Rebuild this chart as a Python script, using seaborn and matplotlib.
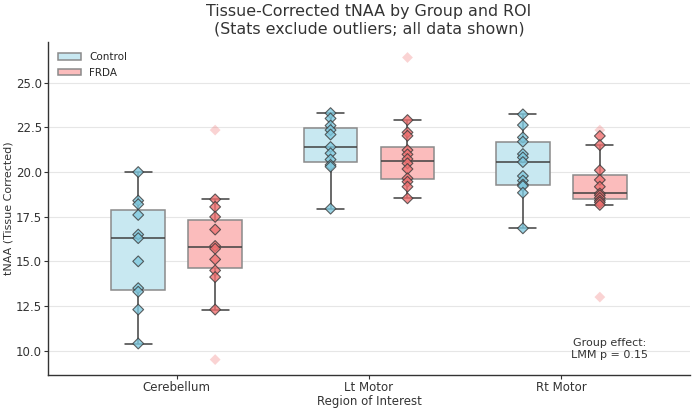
import pandas as pd
import matplotlib
matplotlib.use("Agg")
import matplotlib.pyplot as plt
import seaborn as sns

# Values
rois = ["Cerebellum", "Lt Motor", "Rt Motor"]
groups = ["Control", "FRDA"]

# inliers (used for the box statistics)
cer_control = [20.0, 18.4, 18.2, 17.6, 16.5, 16.3, 15.0, 13.5, 13.3, 12.3, 10.4]
cer_frda = [18.47, 18.05, 17.49, 16.78, 15.86, 15.71, 15.11, 14.49, 14.12, 12.30]
ltm_control = [23.3, 23.0, 22.6, 22.35, 22.1, 21.4, 21.05, 20.7, 20.4, 20.3, 17.95]
ltm_frda = [22.91, 22.22, 22.03, 21.23, 20.99, 20.73, 20.49, 20.17, 19.65, 19.46, 19.18, 18.53]
rtm_control = [23.23, 22.63, 21.94, 21.70, 21.01, 20.82, 20.56, 19.78, 19.52, 19.3, 19.22, 18.84, 16.85]
rtm_frda = [22.02, 21.51, 20.1, 19.56, 19.18, 18.8, 18.7, 18.55, 18.4, 18.3, 18.16]

# outliers (shown faded, excluded from stats)
cer_frda_out = [22.35, 9.5]
ltm_frda_out = [26.45]
rtm_frda_out = [22.35, 13.0]

palette_box = {"Control": "#c8e8f1", "FRDA": "#fbbcbc"}
palette_pts = {"Control": "#80c9df", "FRDA": "#f07070"}


def long_table(pairs):
    rows = []
    for roi, grp, vals in pairs:
        for v in vals:
            rows.append({"ROI": roi, "Group": grp, "tNAA": v})
    return pd.DataFrame(rows)


inliers = long_table([
    ("Cerebellum", "Control", cer_control),
    ("Cerebellum", "FRDA", cer_frda),
    ("Lt Motor", "Control", ltm_control),
    ("Lt Motor", "FRDA", ltm_frda),
    ("Rt Motor", "Control", rtm_control),
    ("Rt Motor", "FRDA", rtm_frda),
])
outliers = long_table([
    ("Cerebellum", "FRDA", cer_frda_out),
    ("Lt Motor", "FRDA", ltm_frda_out),
    ("Rt Motor", "FRDA", rtm_frda_out),
])

sns.set_style("ticks")
plt.rcParams["font.family"] = ["DejaVu Sans"]
text_col = "#333333"

fig, ax = plt.subplots(figsize=(6.93, 4.08), dpi=100)
plt.subplots_adjust(left=0.069, right=0.996, bottom=0.081, top=0.897)

# grid: solid horizontal, dotted vertical
ax.set_axisbelow(True)
ax.yaxis.grid(True, color="#e6e6e6", linewidth=0.8)
ax.xaxis.grid(True, color="#c8c8c8", linewidth=0.7, linestyle=":")

sns.boxplot(data=inliers, x="ROI", y="tNAA", hue="Group", order=rois,
            hue_order=groups, palette=palette_box, saturation=1,
            showfliers=False, width=0.8, gap=0.3, linecolor="#404040",
            linewidth=1.1, boxprops={"edgecolor": "#8a8a8a"}, ax=ax)

sns.stripplot(data=outliers, x="ROI", y="tNAA", hue="Group", order=rois,
              hue_order=groups, palette=palette_pts, dodge=True, jitter=False,
              marker="D", size=5.5, linewidth=0, alpha=0.3, legend=False, ax=ax)

sns.stripplot(data=inliers, x="ROI", y="tNAA", hue="Group", order=rois,
              hue_order=groups, palette=palette_pts, dodge=True, jitter=False,
              marker="D", size=5.5, edgecolor="#3a3a3a", linewidth=0.8,
              alpha=0.8, legend=False, ax=ax)

handles, labels = ax.get_legend_handles_labels()
for h in handles:
    h.set_edgecolor("#8a8a8a")
ax.legend(handles[:2], labels[:2], loc="upper left", fontsize=7.5,
          frameon=False, handlelength=2.2, handleheight=0.6,
          borderaxespad=0.6)

ax.set_xlim(-0.67, 2.67)
ax.set_ylim(8.64, 27.28)
ax.set_yticks([10.0, 12.5, 15.0, 17.5, 20.0, 22.5, 25.0])

ax.set_title("Tissue-Corrected tNAA by Group and ROI\n(Stats exclude outliers; all data shown)",
             fontsize=11.4, color=text_col, pad=6)
ax.set_xlabel("Region of Interest", fontsize=8.5, color=text_col, labelpad=1)
ax.set_ylabel("tNAA (Tissue Corrected)", fontsize=8, color=text_col, labelpad=2)
ax.tick_params(axis="both", labelsize=8.5, colors=text_col, length=3, width=0.8,
               pad=1.2)

for side in ["top", "right"]:
    ax.spines[side].set_visible(False)
for side in ["left", "bottom"]:
    ax.spines[side].set_color("#333333")
    ax.spines[side].set_linewidth(1.0)

ax.text(0.875, 0.045, "Group effect:\nLMM p = 0.15", transform=ax.transAxes,
        ha="center", va="bottom", multialignment="center", fontsize=8,
        color=text_col)

fig.savefig("out.png", dpi=100)
